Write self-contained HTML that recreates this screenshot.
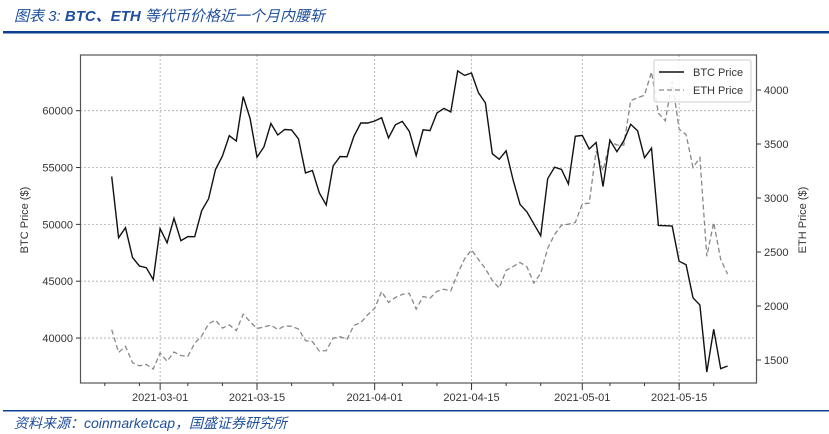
<!DOCTYPE html>
<html><head><meta charset="utf-8"><style>
html,body{margin:0;padding:0;background:#fff;width:829px;height:434px;overflow:hidden}
svg{display:block}
text{font-family:"Liberation Sans","Noto Sans CJK SC",sans-serif}
</style></head><body>
<svg id="s" width="829" height="434" xmlns="http://www.w3.org/2000/svg">
<text x="14" y="21" font-size="15" fill="#1f4e9c" font-style="italic" font-family="Liberation Sans, Noto Sans CJK SC, sans-serif">图表 3:  <tspan font-weight="bold">BTC、ETH</tspan> 等代币价格近一个月内腰斩</text>
<rect x="3" y="31" width="826" height="2.5" fill="#0b3f8f"/>
<g id="grid"></g>
<rect x="80.5" y="55" width="676" height="328" fill="none" stroke="#555" stroke-width="1.2"/>
<g id="ax" font-size="11" fill="#333"></g>
<text transform="translate(28,220) rotate(-90)" text-anchor="middle" font-size="11" fill="#333">BTC Price ($)</text>
<text transform="translate(806,220) rotate(-90)" text-anchor="middle" font-size="11" fill="#333">ETH Price ($)</text>
<polyline id="eth" fill="none" stroke="#888" stroke-width="1.3" stroke-dasharray="5,3"/>
<polyline id="btc" fill="none" stroke="#111" stroke-width="1.4"/>
<rect x="654" y="60" width="97" height="42" rx="2" fill="#fff" fill-opacity="0.85" stroke="#ccc"/>
<line x1="659" y1="72" x2="684" y2="72" stroke="#111" stroke-width="1.4"/>
<text x="693" y="76" font-size="11" fill="#333">BTC Price</text>
<line x1="659" y1="90" x2="684" y2="90" stroke="#888" stroke-width="1.3" stroke-dasharray="5,3"/>
<text x="693" y="94" font-size="11" fill="#333">ETH Price</text>
<rect x="3" y="410" width="826" height="1.5" fill="#0b3f8f"/>
<text x="14" y="428" font-size="14" fill="#1f4e9c" font-style="italic">资料来源：coinmarketcap，国盛证券研究所</text>
</svg>
<script>
var btc=[54207,48824,49705,47093,46339,46188,45137,49631,48378,50538,48561,48927,48912,51206,52246,54824,56008,57805,57332,61243,59302,55907,56804,58870,57858,58346,58313,57523,54529,54738,52774,51704,55137,55974,55947,57750,58918,58918,59095,59384,57603,58758,59057,58192,56048,58323,58245,59793,60204,59893,63503,63109,63314,61572,60683,56216,55724,56473,53906,51762,51093,50050,49004,54021,55033,54824,53555,57750,57828,56631,57200,53333,57424,56396,57356,58803,58232,55859,56704,49900,49880,49850,46760,46456,43537,42909,37002,40782,37304,37536];
var eth=[1781,1570,1626,1475,1446,1459,1417,1565,1488,1574,1542,1533,1655,1723,1835,1869,1795,1825,1772,1924,1855,1792,1806,1823,1782,1816,1812,1787,1679,1670,1582,1587,1702,1716,1692,1820,1846,1919,1978,2135,2033,2079,2107,2118,1971,2088,2072,2136,2155,2140,2300,2436,2519,2431,2345,2237,2166,2330,2365,2404,2363,2213,2302,2534,2662,2747,2757,2773,2945,2952,3432,3253,3522,3491,3490,3902,3928,3952,4168,3785,3715,4079,3638,3587,3282,3374,2460,2773,2431,2295];
function X(i){return 111.7+i*6.92}
function YB(v){return 110.7+(60000-v)*0.011367}
function YE(v){return 90+(4000-v)*0.108}
document.getElementById('btc').setAttribute('points',btc.map((v,i)=>X(i).toFixed(1)+','+YB(v).toFixed(1)).join(' '));
document.getElementById('eth').setAttribute('points',eth.map((v,i)=>X(i).toFixed(1)+','+YE(v).toFixed(1)).join(' '));
var g='',a='';
for(var v=40000;v<=60000;v+=5000){var y=YB(v);g+='<line x1="80" x2="756" y1="'+y+'" y2="'+y+'" stroke="#aaa" stroke-width="0.8" stroke-dasharray="2,2"/>';a+='<line x1="76" x2="80" y1="'+y+'" y2="'+y+'" stroke="#333"/><text x="73" y="'+(y+4)+'" text-anchor="end">'+v+'</text>';}
for(var v=1500;v<=4000;v+=500){var y=YE(v);a+='<line x1="757" x2="761" y1="'+y+'" y2="'+y+'" stroke="#333"/><text x="764" y="'+(y+4)+'">'+v+'</text>';}
var maj=[[7,'2021-03-01'],[21,'2021-03-15'],[38,'2021-04-01'],[52,'2021-04-15'],[68,'2021-05-01'],[82,'2021-05-15']];
maj.forEach(function(m){var x=X(m[0]);g+='<line y1="55" y2="383" x1="'+x+'" x2="'+x+'" stroke="#aaa" stroke-width="0.8" stroke-dasharray="2,2"/>';a+='<line y1="383" y2="390" x1="'+x+'" x2="'+x+'" stroke="#333"/><text x="'+x+'" y="401" text-anchor="middle">'+m[1]+'</text>';});
var minor=[0,5,12,17,22,27,33,43,48,53,58,63,73,78,83,88];
minor.forEach(function(i){var x=X(i)-6.92;a+='<line y1="383" y2="386" x1="'+x+'" x2="'+x+'" stroke="#333"/>';});
document.getElementById('grid').innerHTML=g;
document.getElementById('ax').innerHTML=a;
</script>
</body></html>
